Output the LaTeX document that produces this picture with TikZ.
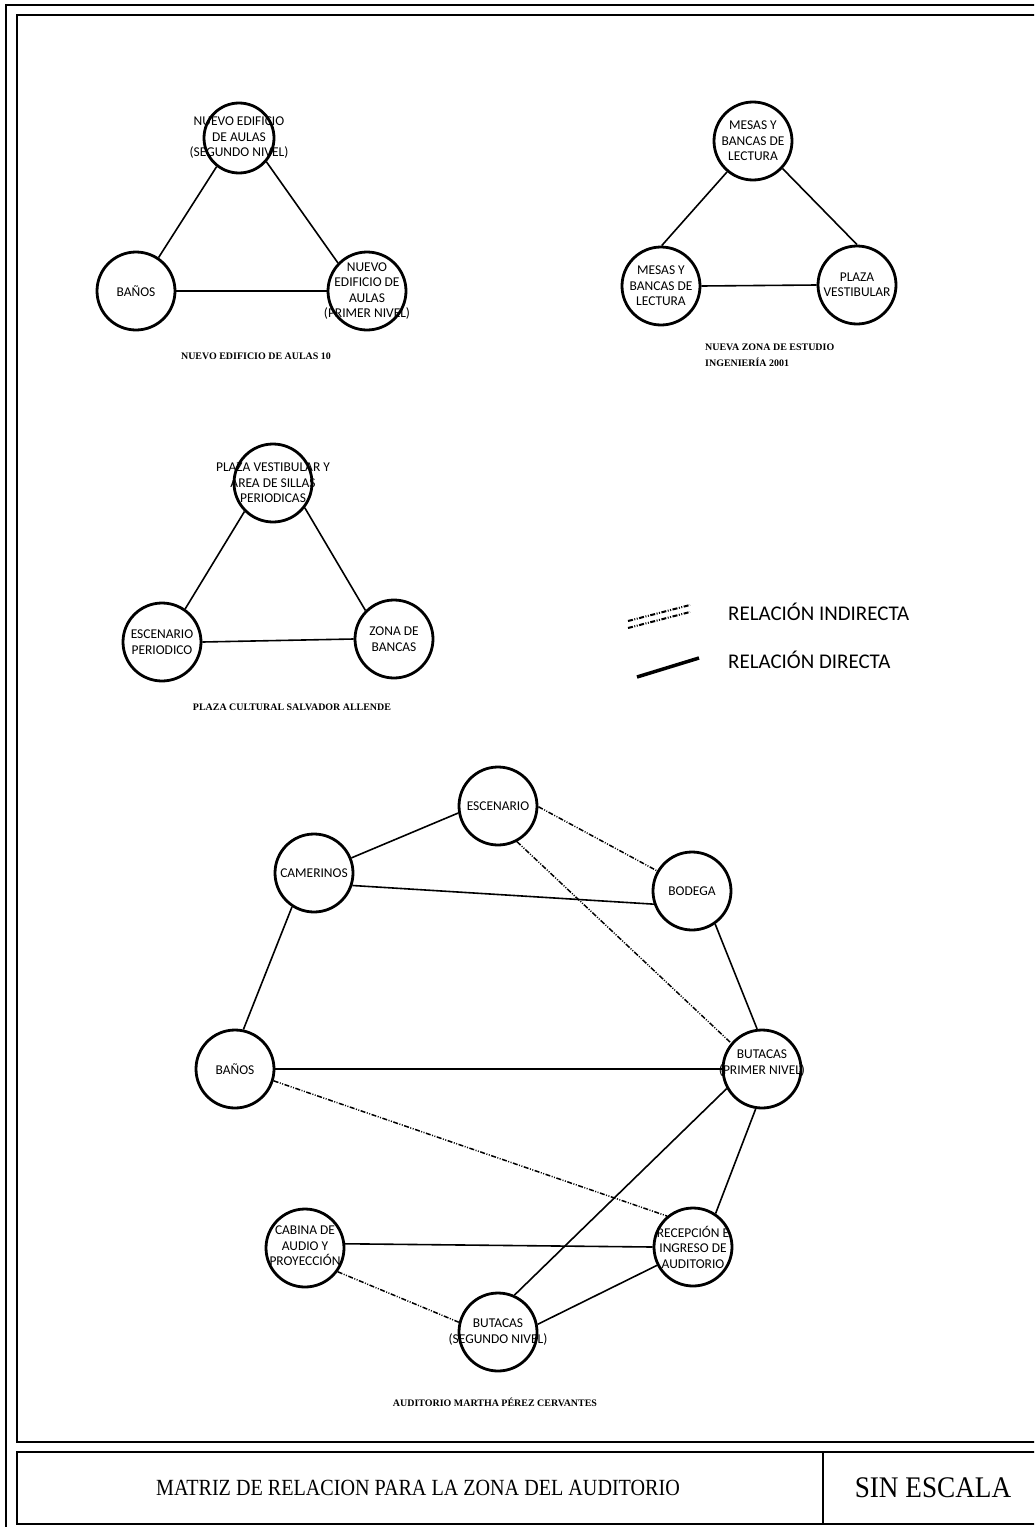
\documentclass[tikz,border=0pt]{standalone}
\usepackage{fontspec}
\setmainfont{Liberation Serif}
\newfontfamily\lblfont{Carlito}
\tikzset{
  bub/.style={circle, draw, line width=2.8bp, fill=white, minimum size=78bp, inner sep=0pt},
  bubsm/.style={bub, minimum size=70bp},
  lbl/.style={font=\lblfont\fontsize{13.5}{15.5}\selectfont, align=center, inner sep=0pt},
  dirline/.style={line width=1.6bp},
  indline/.style={line width=1.5bp, dash pattern=on 5bp off 1.5bp on 1bp off 1.5bp on 1bp off 1.5bp},
  capt/.style={font=\bfseries\fontsize{10}{16}\selectfont, inner sep=0pt},
  legtxt/.style={font=\lblfont\fontsize{21}{21}\selectfont, anchor=west, inner sep=0pt},
  frame/.style={line width=2bp}
}
\begin{document}
\begin{tikzpicture}[x=1bp,y=-1bp]
\path[use as bounding box] (0,0) rectangle (1034,1527);
\clip (0,0) rectangle (1034,1527);
\fill[white] (0,0) rectangle (1034,1527);

% frames
\draw[line width=2.5bp] (6,1540) -- (6,5) -- (1045,5);
\draw[frame] (17,15) rectangle (1045,1442);
\draw[frame] (17,1452) rectangle (1045,1524);
\draw[frame] (823,1452) -- (823,1524);
\node (title) at (418,1488) {\scalebox{1}[1.15]{\fontsize{20.2}{20}\selectfont MATRIZ DE RELACION PARA LA ZONA DEL AUDITORIO}};
\node (sinesc) at (933,1488) {\scalebox{1}[1.1]{\fontsize{27.3}{28}\selectfont SIN ESCALA}};

% --- Nuevo edificio de aulas 10
\node[bubsm, label={[lbl]center:{NUEVO EDIFICIO\\DE AULAS\\(SEGUNDO NIVEL)}}] (n1) at (239,138) {};
\node[bub, label={[lbl]center:{BAÑOS}}] (n2) at (136,291) {};
\node[bub, label={[lbl]center:{NUEVO\\EDIFICIO DE\\AULAS\\(PRIMER NIVEL)}}] (n3) at (367,291) {};
\draw[dirline] (n1.232) -- (n2.56);
\draw[dirline] (n1.-41) -- (n3.136);
\draw[dirline] (n2.0) -- (n3.180);
\node[capt] (c1) at (256,356) {NUEVO EDIFICIO DE AULAS 10};

% --- Nueva zona de estudio
\node[bub, label={[lbl]center:{MESAS Y\\BANCAS DE\\LECTURA}}] (m1) at (753,141) {};
\node[bub, label={[lbl]center:{MESAS Y\\BANCAS DE\\LECTURA}}] (m2) at (661,286) {};
\node[bub, label={[lbl]center:{PLAZA\\VESTIBULAR}}] (m3) at (857,285) {};
\draw[dirline] (m1.230) -- (m2.89);
\draw[dirline] (m1.-43) -- (m3.90);
\draw[dirline] (m2.0) -- (m3.180);
\node[capt, anchor=west, align=left] (c2) at (705,355) {NUEVA ZONA DE ESTUDIO\\INGENIERÍA 2001};

% --- Plaza cultural
\node[bub, label={[lbl]center:{PLAZA VESTIBULAR Y\\ÁREA DE SILLAS\\PERIODICAS}}] (p1) at (273,483) {};
\node[bub, label={[lbl]center:{ESCENARIO\\PERIODICO}}] (p2) at (162,642) {};
\node[bub, label={[lbl]center:{ZONA DE\\BANCAS}}] (p3) at (394,639) {};
\draw[dirline] (p1.225) -- (p2.55);
\draw[dirline] (p1.-38) -- (p3.135);
\draw[dirline] (p2.0) -- (p3.180);
\node[capt] (c3) at (292,707) {PLAZA CULTURAL SALVADOR ALLENDE};

% --- Legend
\coordinate (la1) at (628,621);
\coordinate (la2) at (690,605);
\coordinate (lb1) at (628,628);
\coordinate (lb2) at (690,612);
\draw[indline, line width=2bp] (la1) -- (la2);
\draw[indline, line width=2bp] (lb1) -- (lb2);
\coordinate (ld1) at (637,677);
\coordinate (ld2) at (699,658);
\draw[line width=3.5bp] (ld1) -- (ld2);
\node[legtxt] (lt1) at (728,612) {RELACIÓN INDIRECTA};
\node[legtxt] (lt2) at (728,660) {RELACIÓN DIRECTA};

% --- Auditorio
\node[bub, label={[lbl]center:{ESCENARIO}}] (esc) at (498,806) {};
\node[bub, label={[lbl]center:{CAMERINOS}}] (cam) at (314,873) {};
\node[bub, label={[lbl]center:{BODEGA}}] (bod) at (692,891) {};
\node[bub, label={[lbl]center:{BAÑOS}}] (ban) at (235,1069) {};
\node[bub, label={[lbl,yshift=6bp]center:{BUTACAS\\(PRIMER NIVEL)}}] (bu1) at (762,1069) {};
\node[bub, label={[lbl]center:{RECEPCIÓN E\\INGRESO DE\\AUDITORIO}}] (rec) at (693,1247) {};
\node[bub, label={[lbl,yshift=2bp]center:{CABINA DE\\AUDIO Y\\PROYECCIÓN}}] (cab) at (305,1248) {};
\node[bub, label={[lbl]center:{BUTACAS\\(SEGUNDO NIVEL)}}] (bu2) at (498,1332) {};

\draw[dirline] (esc.190) -- (cam.22);
\draw[dirline] (cam.-18) -- (bod.199);
\draw[dirline] (cam.237) -- (ban.78);
\draw[dirline] (bod.-55) -- (bu1.97);
\draw[dirline] (ban.0) -- (bu1.180);
\draw[dirline] (bu1.261) -- (rec.56);
\draw[dirline] (bu1.209) -- (bu2.66);
\draw[dirline] (cab.6) -- (rec.180);
\draw[dirline] (rec.207) -- (bu2.11);

\draw[indline] (esc.-1) -- (bod.150);
\draw[indline] (esc.-62) -- (bu1.140);
\draw[indline] (ban.-17) -- (rec.130);
\draw[indline] (cab.-36) -- (bu2.166);

\node[capt] (c4) at (495,1402) {AUDITORIO MARTHA PÉREZ CERVANTES};
\end{tikzpicture}
\end{document}
